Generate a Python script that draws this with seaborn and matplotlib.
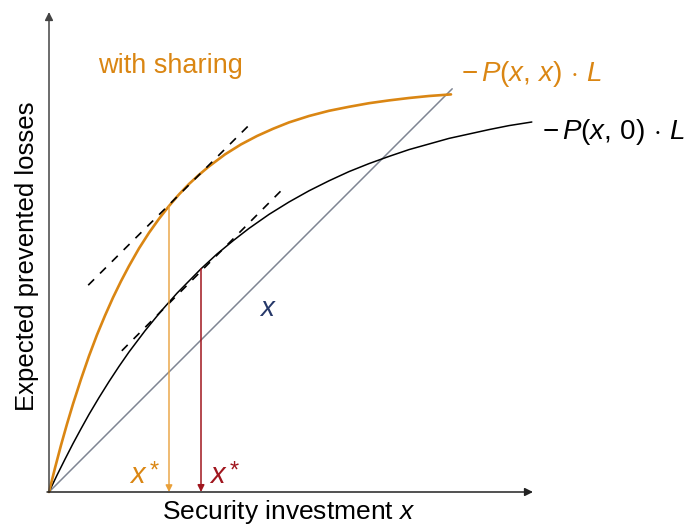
import numpy as np
import pandas as pd
import matplotlib
matplotlib.use("Agg")
import matplotlib.pyplot as plt
import seaborn as sns

# Expected prevented losses with sharing, -P(x, x) * L
shared_x = [0, 0.15, 0.3, 0.45, 0.6, 0.8, 1.0, 1.2, 1.4, 1.6, 1.8, 2.0, 2.25, 2.5, 2.75,
            3.0, 3.25, 3.5, 3.75, 4.0, 4.4, 4.8, 5.2, 5.6, 6.0, 6.5, 7.0, 7.5, 8.0,
            8.5, 9.0, 9.5, 10.05]
shared_y = [0, 0.60, 1.17, 1.70, 2.20, 2.82, 3.40, 3.93, 4.41, 4.86, 5.27, 5.65, 6.09,
            6.48, 6.83, 7.15, 7.44, 7.70, 7.93, 8.14, 8.44, 8.69, 8.90, 9.08, 9.24,
            9.40, 9.53, 9.63, 9.72, 9.79, 9.85, 9.90, 9.94]

# Expected prevented losses without sharing, -P(x, 0) * L
alone_x = [0, 0.2, 0.4, 0.6, 0.8, 1.0, 1.25, 1.5, 1.75, 2.0, 2.4, 2.8, 3.2, 3.8, 4.2,
           4.6, 5.0, 5.5, 6.0, 6.5, 7.0, 7.5, 8.0, 8.5, 9.0, 9.5, 10.0, 10.5, 11.0,
           11.5, 12.07]
alone_y = [0, 0.42, 0.82, 1.21, 1.58, 1.94, 2.36, 2.76, 3.14, 3.50, 4.03, 4.52, 4.97,
           5.58, 5.95, 6.28, 6.59, 6.94, 7.25, 7.53, 7.78, 8.01, 8.21, 8.39, 8.56,
           8.70, 8.84, 8.95, 9.06, 9.16, 9.25]

# Cost of the investment itself, the line y = x
cost_x = [0, 10.08]
cost_y = [0, 10.08]

# Tangent segments of slope one at the optima
tangent_shared_x = [0.98, 5.03]
tangent_shared_y = [5.17, 9.20]
tangent_alone_x = [1.82, 5.82]
tangent_alone_y = [3.53, 7.55]

# Optimal investments (points on the curves above)
xstar_shared = 3.0
xstar_alone = 3.8

# Axis extents
x_axis_end = 12.1
y_axis_end = 12.0

ORANGE = "#DA8613"
ORANGE_LIGHT = "#E9A03A"
RED = "#A0161E"
GRAY = "#7F8593"
NAVY = "#263869"

sns.set_theme(style="white")
plt.rcParams["font.family"] = ["Liberation Sans", "DejaVu Sans"]
plt.rcParams["mathtext.fontset"] = "custom"
plt.rcParams["mathtext.rm"] = "Liberation Sans"
plt.rcParams["mathtext.it"] = "Liberation Sans:italic"
plt.rcParams["mathtext.cal"] = "Liberation Sans"

fig = plt.figure(figsize=(6.89, 5.31), dpi=100)
ax = fig.add_axes([0, 0, 1, 1])
ax.set_xlim(-1.225, 16.0)
ax.set_ylim(-0.975, 12.3)
ax.set_axis_off()

shared = pd.DataFrame({"x": shared_x, "y": shared_y})
alone = pd.DataFrame({"x": alone_x, "y": alone_y})
cost = pd.DataFrame({"x": cost_x, "y": cost_y})

sns.lineplot(data=cost, x="x", y="y", ax=ax, color=GRAY, lw=1.1, sort=False, estimator=None)
sns.lineplot(data=alone, x="x", y="y", ax=ax, color="black", lw=1.1, sort=False, estimator=None)
sns.lineplot(data=shared, x="x", y="y", ax=ax, color=ORANGE, lw=1.9, sort=False, estimator=None)

for tx, ty in [(tangent_shared_x, tangent_shared_y), (tangent_alone_x, tangent_alone_y)]:
    sns.lineplot(x=tx, y=ty, ax=ax, color="black", lw=1.2, linestyle=(0, (5, 5)),
                 sort=False, estimator=None)

# Axes drawn as arrows
ax.annotate("", xy=(0, y_axis_end), xytext=(0, 0),
            arrowprops=dict(arrowstyle="-|>", color="#444444", lw=1.1,
                            mutation_scale=12, shrinkA=0, shrinkB=0))
ax.annotate("", xy=(x_axis_end, 0), xytext=(-0.05, 0),
            arrowprops=dict(arrowstyle="-|>", color="#222222", lw=1.1,
                            mutation_scale=12, shrinkA=0, shrinkB=0))

# Drop arrows from the tangent points to the investment axis
top_shared = shared_y[shared_x.index(xstar_shared)]
top_alone = alone_y[alone_x.index(xstar_alone)]
ax.annotate("", xy=(xstar_shared, 0), xytext=(xstar_shared, top_shared),
            arrowprops=dict(arrowstyle="-|>", color=ORANGE_LIGHT, lw=1.0,
                            mutation_scale=10, shrinkA=0, shrinkB=0))
ax.annotate("", xy=(xstar_alone, 0), xytext=(xstar_alone, top_alone),
            arrowprops=dict(arrowstyle="-|>", color=RED, lw=1.1,
                            mutation_scale=10, shrinkA=0, shrinkB=0))

# Labels
ax.text(3.03, 10.65, "with sharing", color=ORANGE, fontsize=19.5, ha="center", va="center")
ax.text(10.3, 10.45, r"$-\,P(x,\,x)\,\cdot\,L$", color=ORANGE, fontsize=20,
        ha="left", va="center")
ax.text(12.33, 9.0, r"$-\,P(x,\,0)\,\cdot\,L$", color="black", fontsize=20,
        ha="left", va="center")
ax.text(5.45, 4.58, "x", style="italic", color=NAVY, fontsize=20, ha="center", va="center")
for cx, col in [(2.22, ORANGE), (4.22, RED)]:
    ax.text(cx, 0.42, "x", style="italic", color=col, fontsize=21, ha="center", va="center")
    ax.text(cx + 0.42, 0.52, "*", color=col, fontsize=17, ha="center", va="center")
ax.text(6.0, -0.5, r"Security investment $x$", color="black", fontsize=19,
        ha="center", va="center")
ax.text(-0.55, 5.9, "Expected prevented losses", color="black", fontsize=18.5,
        ha="center", va="center", rotation=90)

fig.savefig("out.png", dpi=100)
